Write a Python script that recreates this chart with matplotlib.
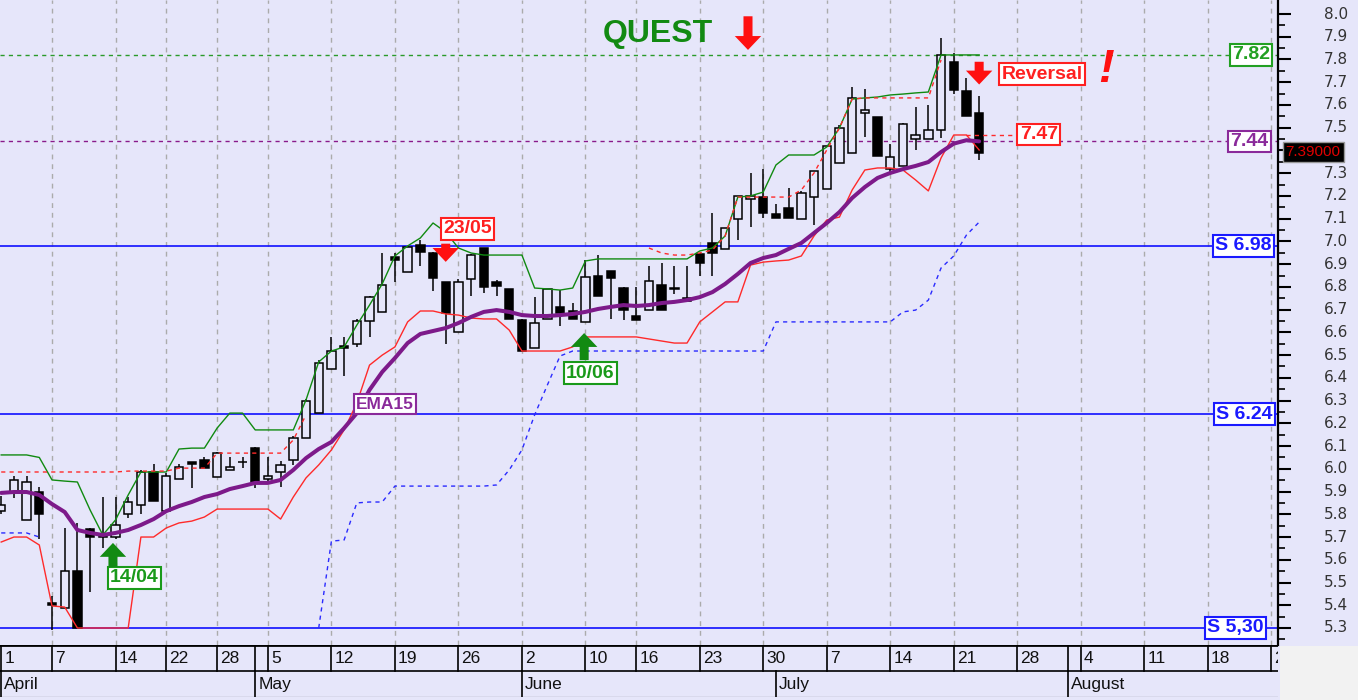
import numpy as np
import matplotlib
matplotlib.use('Agg')
import matplotlib.pyplot as plt
from matplotlib.patches import Rectangle
import matplotlib.transforms as mtransforms

plt.rcParams['font.family'] = ['Liberation Sans', 'DejaVu Sans']

# ---------------- data (trading days 1 Apr .. 23 Jul 2014) ----------------
opens = [5.815, 5.90, 5.775, 5.90, 5.41, 5.39, 5.55, 5.735, 5.705, 5.70,
         5.80, 5.84, 5.985, 5.815, 5.955, 6.03, 6.04, 5.965, 5.995, 6.03,
         6.09, 5.955, 5.985, 6.04, 6.135, 6.245, 6.44, 6.54, 6.55, 6.65,
         6.69, 6.93, 6.865, 6.985, 6.95, 6.82, 6.60, 6.835, 6.97, 6.82,
         6.79, 6.655, 6.53, 6.66, 6.71, 6.695, 6.645, 6.85, 6.87, 6.795,
         6.67, 6.70, 6.81, 6.795, 6.75, 6.945, 6.995, 6.965, 7.10, 7.185,
         7.195, 7.12, 7.145, 7.10, 7.195, 7.23, 7.345, 7.39, 7.565, 7.545,
         7.32, 7.33, 7.45, 7.45, 7.49, 7.79, 7.66, 7.565]
highs = [5.88, 5.97, 5.97, 5.92, 5.44, 5.74, 5.76, 5.74, 5.875, 5.875,
         5.875, 5.995, 6.02, 5.98, 6.02, 6.03, 6.05, 6.075, 6.05, 6.05,
         6.095, 6.05, 6.035, 6.145, 6.305, 6.48, 6.58, 6.58, 6.66, 6.76,
         6.95, 6.95, 6.98, 7.005, 6.955, 6.82, 6.835, 6.945, 6.97, 6.83,
         6.79, 6.66, 6.755, 6.79, 6.785, 6.73, 6.92, 6.94, 6.87, 6.80,
         6.80, 6.89, 6.905, 6.89, 6.89, 6.95, 7.125, 7.06, 7.20, 7.30,
         7.32, 7.165, 7.235, 7.22, 7.31, 7.42, 7.51, 7.68, 7.67, 7.545,
         7.43, 7.52, 7.59, 7.60, 7.895, 7.83, 7.72, 7.64]
lows = [5.80, 5.87, 5.775, 5.69, 5.29, 5.39, 5.30, 5.46, 5.65, 5.69,
        5.785, 5.80, 5.86, 5.815, 5.955, 5.915, 6.005, 5.965, 5.995, 6.005,
        5.915, 5.94, 5.92, 6.015, 6.135, 6.245, 6.44, 6.41, 6.535, 6.58,
        6.69, 6.82, 6.865, 6.89, 6.78, 6.55, 6.60, 6.76, 6.775, 6.76,
        6.66, 6.52, 6.53, 6.66, 6.63, 6.66, 6.645, 6.76, 6.66, 6.655,
        6.655, 6.70, 6.70, 6.77, 6.74, 6.85, 6.85, 6.965, 7.005, 7.065,
        7.105, 7.105, 7.105, 7.10, 7.07, 7.23, 7.345, 7.39, 7.46, 7.375,
        7.30, 7.33, 7.40, 7.45, 7.455, 7.65, 7.55, 7.36]
closes = [5.84, 5.95, 5.94, 5.80, 5.40, 5.55, 5.30, 5.70, 5.70, 5.755,
          5.855, 5.985, 5.86, 5.97, 6.01, 6.02, 6.005, 6.07, 6.01, 6.03,
          5.94, 5.97, 6.015, 6.135, 6.30, 6.465, 6.52, 6.53, 6.65, 6.755,
          6.81, 6.92, 6.975, 6.955, 6.84, 6.685, 6.82, 6.94, 6.80, 6.805,
          6.66, 6.52, 6.64, 6.79, 6.685, 6.66, 6.845, 6.76, 6.84, 6.70,
          6.655, 6.825, 6.70, 6.79, 6.74, 6.905, 6.95, 7.06, 7.20, 7.20,
          7.125, 7.105, 7.105, 7.215, 7.31, 7.42, 7.50, 7.63, 7.58, 7.375,
          7.37, 7.515, 7.47, 7.49, 7.82, 7.665, 7.55, 7.39]

ema15 = [5.894, 5.898, 5.898, 5.885, 5.845, 5.810, 5.731, 5.718, 5.709, 5.718,
         5.731, 5.753, 5.779, 5.814, 5.836, 5.854, 5.876, 5.889, 5.911, 5.924,
         5.938, 5.938, 5.951, 5.995, 6.047, 6.087, 6.118, 6.179, 6.245, 6.347,
         6.426, 6.487, 6.553, 6.593, 6.606, 6.619, 6.641, 6.668, 6.690, 6.698,
         6.690, 6.676, 6.672, 6.672, 6.676, 6.681, 6.690, 6.703, 6.712, 6.720,
         6.716, 6.720, 6.729, 6.734, 6.742, 6.755, 6.777, 6.813, 6.857, 6.905,
         6.927, 6.940, 6.967, 6.993, 7.037, 7.081, 7.129, 7.191, 7.239, 7.279,
         7.301, 7.318, 7.332, 7.349, 7.393, 7.430, 7.445, 7.440]

upper_band = [6.061, 6.061, 6.061, 6.050, 5.951, 5.946, 5.942, 5.819, 5.709, 5.775,
              5.885, 5.986, 5.986, 5.986, 6.087, 6.091, 6.091, 6.179, 6.245, 6.245,
              6.171, 6.171, 6.171, 6.171, 6.303, 6.470, 6.518, 6.536, 6.632, 6.720,
              6.813, 6.936, 6.980, 7.015, 7.081, 7.041, 6.971, 6.949, 6.940, 6.940,
              6.940, 6.940, 6.795, 6.791, 6.786, 6.795, 6.914, 6.923, 6.923, 6.923,
              6.923, 6.923, 6.923, 6.923, 6.923, 6.958, 6.971, 7.024, 7.195, 7.200,
              7.217, 7.336, 7.380, 7.380, 7.380, 7.415, 7.499, 7.626, 7.631, 7.635,
              7.644, 7.648, 7.653, 7.657, 7.820, 7.820, 7.820, 7.820]

lower_band = [5.678, 5.700, 5.700, 5.665, 5.397, 5.392, 5.300, 5.300, 5.300, 5.300,
              5.300, 5.700, 5.700, 5.740, 5.762, 5.770, 5.788, 5.823, 5.823, 5.823,
              5.823, 5.823, 5.779, 5.876, 5.960, 6.017, 6.083, 6.171, 6.289, 6.456,
              6.500, 6.536, 6.646, 6.694, 6.694, 6.681, 6.676, 6.663, 6.659, 6.659,
              6.610, 6.518, 6.518, 6.518, 6.518, 6.536, 6.580, 6.580, 6.580, 6.580,
              6.580, 6.571, 6.562, 6.553, 6.553, 6.646, 6.690, 6.734, 6.734, 6.896,
              6.909, 6.914, 6.918, 6.936, 7.024, 7.094, 7.107, 7.226, 7.314, 7.323,
              7.323, 7.314, 7.270, 7.222, 7.367, 7.468, 7.468, 7.402]

nan = float('nan')
stop_line = [5.986, 5.986, 5.986, 5.986, 5.986, 5.986, 5.986, 5.986, 5.986, 5.986,
             5.990, 5.990, 5.990, 5.990, 6.003, 6.003, 6.003, 6.069, 6.069, 6.069,
             6.069, 6.069, 6.069, 6.127, 6.237, nan, nan, nan, nan, nan,
             nan, nan, nan, nan, nan, nan, nan, nan, nan, nan,
             nan, nan, nan, nan, nan, nan, nan, nan, nan, nan,
             nan, 6.971, 6.949, 6.940, 6.940, 6.949, 6.962, 7.024, 7.195, 7.195,
             7.195, 7.195, 7.195, 7.226, 7.301, 7.402, 7.499, 7.626, 7.631, 7.631,
             7.631, 7.631, 7.631, 7.631, 7.798, nan, nan, nan]

trail_line = [5.718, 5.718, 5.718, 5.700, nan, nan, nan, nan, nan, nan,
              nan, nan, nan, nan, nan, nan, nan, nan, nan, nan,
              nan, nan, nan, nan, nan, 5.300, 5.682, 5.687, 5.850, 5.854,
              5.854, 5.924, 5.924, 5.924, 5.924, 5.924, 5.924, 5.924, 5.924, 5.929,
              5.995, 6.083, 6.237, 6.368, 6.496, 6.518, 6.518, 6.518, 6.518, 6.518,
              6.518, 6.518, 6.518, 6.518, 6.518, 6.518, 6.518, 6.518, 6.518, 6.518,
              6.518, 6.646, 6.646, 6.646, 6.646, 6.646, 6.646, 6.646, 6.646, 6.646,
              6.646, 6.690, 6.698, 6.742, 6.883, 6.936, 7.028, 7.085]

supports = [6.98, 6.24, 5.30]
support_labels = ['S 6.98', 'S 6.24', 'S 5,30']
high_level = 7.82
ema_level = 7.44
reversal_level = 7.47
last_price = 7.39

price_ticks = [5.3, 5.4, 5.5, 5.6, 5.7, 5.8, 5.9, 6.0, 6.1, 6.2, 6.3, 6.4, 6.5, 6.6,
               6.7, 6.8, 6.9, 7.0, 7.1, 7.2, 7.3, 7.4, 7.5, 7.6, 7.7, 7.8, 7.9, 8.0]

week_labels = ['1', '7', '14', '22', '28', '5', '12', '19', '26', '2', '10', '16',
               '23', '30', '7', '14', '21', '28', '4', '11', '18', '25']
week_index = [0, 4, 9, 13, 17, 21, 26, 31, 36, 41, 46, 50, 55, 60, 65, 70, 75, 80,
              85, 90, 95, 100]
month_labels = ['April', 'May', 'June', 'July', 'August']
month_index = [0, 20, 41, 61, 84]
row1_month_seps = [20, 84]

# ---------------- figure ----------------
W, H = 1358, 700
BG = '#e6e6fa'
fig = plt.figure(figsize=(W / 100, H / 100), dpi=100, facecolor=BG)
ax = fig.add_axes([0, 55 / H, 1278 / W, 645 / H])
ax.set_facecolor(BG)
XL = (-0.094, 100.53)
ax.set_xlim(*XL)
ax.set_ylim(5.2252, 8.0616)

for s in ['left', 'top', 'bottom']:
    ax.spines[s].set_visible(False)
ax.spines['right'].set_linewidth(1.6)
ax.spines['right'].set_color('black')

ax.set_xticks([])
ax.yaxis.set_ticks_position('right')
ax.set_yticks(price_ticks)
ax.set_yticks([t + 0.05 for t in price_ticks[:-1]] + [5.25], minor=True)
ax.tick_params(axis='y', which='major', length=9.5, width=1.5, direction='out',
               labelright=False, labelleft=False, color='black')
ax.tick_params(axis='y', which='minor', length=5, width=1.2, direction='out', color='black')

trans = mtransforms.blended_transform_factory(ax.transAxes, ax.transData)
for t in price_ticks:
    if abs(t - last_price) < 0.04:
        continue  # hidden behind the last-price box
    ax.text(1.0 + 70 / 1278, t, '%.1f' % t, transform=trans, ha='right', va='center',
            fontsize=11, color='#333333', clip_on=False, family='DejaVu Sans')

# grid
for wi in week_index[1:]:
    ax.axvline(wi, color='#ababab', lw=1.0, ls=(0, (3.5, 3.5)), zorder=1)

# horizontal levels
for s in supports:
    ax.axhline(s, color='#1010ff', lw=1.2, zorder=2)
ax.axhline(high_level, color='#2a9a2a', lw=1.0, ls=(0, (3, 3)), zorder=2)
ax.axhline(ema_level, color='#8a1a8a', lw=1.0, ls=(0, (3, 3)), zorder=2)

# candles
x = np.arange(len(closes))
bw = 0.66
for i in range(len(closes)):
    o, h, l, c = opens[i], highs[i], lows[i], closes[i]
    ax.plot([i, i], [l, h], color='black', lw=1.1, zorder=3, solid_capstyle='butt')
    lo, hi = min(o, c), max(o, c)
    fc = BG if c >= o else 'black'
    ax.add_patch(Rectangle((i - bw / 2, lo), bw, max(hi - lo, 0.002), fc=fc, ec='black',
                           lw=1.1, zorder=3.5))

# indicator lines
ax.plot(x, trail_line, color='#2a2aff', lw=1.0, ls=(0, (3, 3)), zorder=4)
ax.plot(x, lower_band, color='#ff2a2a', lw=1.0, zorder=4)
ax.plot(x, upper_band, color='#108a10', lw=1.0, zorder=4)
ax.plot(x, stop_line, color='#ff2a2a', lw=1.0, ls=(0, (3, 3)), zorder=4)
ax.plot([76, 79.6], [reversal_level, reversal_level], color='#ff2a2a', lw=1.0,
        ls=(0, (3, 3)), zorder=4)
ax.plot(x, ema15, color='#7d1a8a', lw=2.9, zorder=5, solid_capstyle='round')

# labels / boxes
def box(xp, yp, txt, col, fs=14, ha='center'):
    ax.text(xp, yp, txt, color=col, fontsize=fs, fontweight='bold', ha=ha, va='center',
            zorder=8, bbox=dict(boxstyle='square,pad=0.12', fc='white', ec=col, lw=1.5))

box(98.4, high_level, '%.2f' % high_level, '#22a022')
box(98.3, ema_level, '%.2f' % ema_level, '#8a2a9a')
box(81.7, reversal_level, '%.2f' % reversal_level, '#ff2020')
box(97.8, supports[0], support_labels[0], '#1a1aff')
box(97.9, supports[1], support_labels[1], '#1a1aff')
box(97.2, supports[2], support_labels[2], '#1a1aff')
box(36.7, 7.055, '23/05', '#ff2020')
box(46.4, 6.42, '10/06', '#1a9a1a')
box(10.5, 5.52, '14/04', '#1a9a1a')
box(30.2, 6.285, 'EMA15', '#8a2a9a', fs=12.5)
box(81.96, 7.736, 'Reversal', '#ff2020', fs=14)

ax.text(51.7, 7.912, 'QUEST', color='#128a12', fontsize=23, fontweight='bold',
        ha='center', va='center', zorder=8)
ax.text(87.0, 7.755, '!', color='#ff1010', fontsize=34, fontweight='bold',
        fontstyle='italic', ha='center', va='center', zorder=8)

def arrow(xp, y_tail, y_tip, col):
    ax.annotate('', xy=(xp, y_tip), xytext=(xp, y_tail), zorder=8,
                arrowprops=dict(arrowstyle='simple,head_length=1.0,head_width=1.9,tail_width=0.65',
                                fc=col, ec='none', shrinkA=0, shrinkB=0))

arrow(58.8, 7.99, 7.842, '#ff1010')
arrow(77.0, 7.79, 7.69, '#ff1010')
arrow(35.0, 6.99, 6.91, '#ff1010')
arrow(45.9, 6.478, 6.597, '#128a12')
arrow(8.8, 5.568, 5.674, '#128a12')

# last price box on the axis
ax.text(1.006, last_price + 0.005, '%.5f' % last_price, transform=trans, color='#e00000',
        fontsize=11, ha='left', va='center', zorder=9, clip_on=False,
        bbox=dict(boxstyle='square,pad=0.2', fc='black', ec='#999999', lw=1))

# ---------------- date strip ----------------
axd = fig.add_axes([0, 3 / H, 1278 / W, 52 / H])
axd.set_facecolor(BG)
axd.set_xlim(*XL)
axd.set_ylim(0, 2)
axd.set_xticks([])
axd.set_yticks([])
for s in axd.spines.values():
    s.set_visible(False)
axd.axhline(2, color='black', lw=2.0)
axd.axhline(1.0, color='black', lw=1.2)
axd.axhline(0.0, color='black', lw=0.8)
nar = ['Liberation Sans Narrow', 'Liberation Sans', 'DejaVu Sans']
for lab, wi in zip(week_labels, week_index):
    axd.plot([wi, wi], [1, 2], color='black', lw=1.2)
    axd.text(wi + 0.25, 1.48, lab, fontsize=12.5, ha='left', va='center', color='#111111',
             family=nar, clip_on=True)
for wi in row1_month_seps:
    axd.plot([wi, wi], [1, 2], color='black', lw=1.2)
for lab, mi in zip(month_labels, month_index):
    axd.plot([mi, mi], [0, 1], color='black', lw=1.2)
    axd.text(mi + 0.25, 0.48, lab, fontsize=12.5, ha='left', va='center', color='#111111',
             family=nar)

fig.patches.append(Rectangle((1280 / W, 0), 78 / W, 54 / H, transform=fig.transFigure,
                             fc='#f2f2f2', ec='none', zorder=0))

fig.savefig('out.png', dpi=100, facecolor=BG)
